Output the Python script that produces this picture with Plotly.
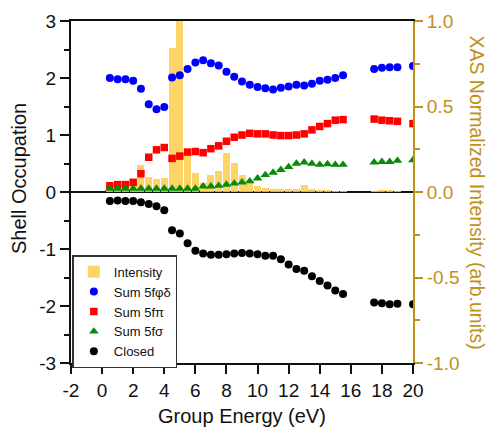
import plotly.graph_objects as go

# ---- data ----
x_pts = [0.5, 1.0, 1.5, 2.0, 2.5, 3.0, 3.5, 4.0, 4.5, 5.0, 5.5, 6.0, 6.5, 7.0, 7.5, 8.0,
         8.5, 9.0, 9.5, 10.0, 10.5, 11.0, 11.5, 12.0, 12.5, 13.0, 13.5, 14.0, 14.5, 15.0, 15.5,
         17.5, 18.0, 18.5, 19.0, 20.0]
sum_phi_delta = [2.00, 1.98, 1.98, 1.95, 1.81, 1.54, 1.45, 1.49, 2.01, 2.05, 2.16, 2.27, 2.31, 2.26,
                 2.22, 2.11, 2.02, 1.94, 1.88, 1.84, 1.82, 1.80, 1.83, 1.85, 1.88, 1.87, 1.90, 1.95,
                 1.97, 2.00, 2.05, 2.16, 2.18, 2.19, 2.19, 2.21]
sum_pi = [0.11, 0.13, 0.13, 0.17, 0.32, 0.61, 0.74, 0.78, 0.59, 0.63, 0.70, 0.71, 0.69, 0.76, 0.81,
          0.89, 0.96, 1.00, 1.03, 1.02, 1.02, 1.00, 0.99, 0.99, 1.00, 1.02, 1.09, 1.15, 1.20, 1.26,
          1.27, 1.28, 1.26, 1.25, 1.24, 1.20]
sum_sigma = [0.06, 0.06, 0.06, 0.06, 0.06, 0.06, 0.06, 0.06, 0.06, 0.06, 0.06, 0.06, 0.10, 0.10,
             0.11, 0.13, 0.15, 0.17, 0.19, 0.24, 0.30, 0.34, 0.39, 0.44, 0.50, 0.52, 0.50, 0.48,
             0.49, 0.48, 0.48, 0.52, 0.53, 0.53, 0.55, 0.56]
closed = [-0.16, -0.15, -0.16, -0.16, -0.18, -0.21, -0.25, -0.32, -0.67, -0.73, -0.90, -1.03, -1.08,
          -1.10, -1.10, -1.09, -1.08, -1.07, -1.08, -1.09, -1.12, -1.12, -1.18, -1.27, -1.35, -1.38,
          -1.48, -1.56, -1.64, -1.73, -1.79, -1.94, -1.95, -1.97, -1.96, -1.97]
intensity = [0.05, 0.05, 0.05, 0.06, 0.16, 0.09, 0.077, 0.083, 0.845, 1.0, 0.22, 0.11, 0.054, 0.10,
             0.125, 0.23, 0.17, 0.10, 0.054, 0.038, 0.025, 0.02, 0.02, 0.015, 0.02, 0.042, 0.02,
             0.014, 0.01, 0.008, 0.008, 0.008, 0.01, 0.01, 0.006, 0.0]
x_ticks = [-2, 0, 2, 4, 6, 8, 10, 12, 14, 16, 18, 20]
x_labels = ["-2", "0", "2", "4", "6", "8", "10", "12", "14", "16", "18", "20"]
occ_ticks = [-3, -2, -1, 0, 1, 2, 3]
occ_labels = ["-3", "-2", "-1", "0", "1", "2", "3"]
xas_ticks = [-1.0, -0.5, 0.0, 0.5, 1.0]
xas_labels = ["-1.0", "-0.5", "0.0", "0.5", "1.0"]

GOLD = "#c0901a"
FONT = "Liberation Sans, Arial, sans-serif"

fig = go.Figure()
fig.add_trace(go.Bar(x=x_pts, y=intensity, width=0.45, name="Intensity",
                     marker=dict(color="rgba(255,205,75,0.85)", line=dict(width=0)),
                     yaxis="y"))
fig.add_trace(go.Scatter(x=x_pts, y=sum_phi_delta, mode="markers", name="Sum 5fφδ",
                         marker=dict(symbol="circle", size=8, color="#0000ff"), yaxis="y2"))
fig.add_trace(go.Scatter(x=x_pts, y=sum_pi, mode="markers", name="Sum 5fπ",
                         marker=dict(symbol="square", size=7.5, color="#ff0000"), yaxis="y2"))
fig.add_trace(go.Scatter(x=x_pts, y=sum_sigma, mode="markers", name="Sum 5fσ",
                         marker=dict(symbol="triangle-up", size=8.5, color="#0a8a0a"), yaxis="y2"))
fig.add_trace(go.Scatter(x=x_pts, y=closed, mode="markers", name="Closed",
                         marker=dict(symbol="circle", size=8, color="#000000"), yaxis="y2"))

fig.update_layout(
    width=490, height=429,
    margin=dict(l=71, r=77, t=21, b=66),
    paper_bgcolor="white", plot_bgcolor="white",
    font=dict(family=FONT, size=19, color="#111"),
    bargap=0,
    xaxis=dict(range=[-2, 20], tickvals=x_ticks, ticktext=x_labels, ticks="outside", ticklen=9,
               tickwidth=2, tickcolor="#111", showline=True, linewidth=2, linecolor="#111",
               mirror=True, showgrid=False, zeroline=False, tickfont=dict(size=19)),
    yaxis=dict(side="right", range=[-1, 1], tickvals=xas_ticks, ticktext=xas_labels,
               ticks="outside", ticklen=8, tickwidth=2, tickcolor=GOLD, showline=True,
               linewidth=2, linecolor=GOLD, showgrid=False, zeroline=False,
               tickfont=dict(color=GOLD, size=19),
               minor=dict(dtick=0.25, ticks="outside", ticklen=5, tickwidth=2, tickcolor=GOLD)),
    yaxis2=dict(overlaying="y", side="left", range=[-3, 3], tickvals=occ_ticks,
                ticktext=occ_labels, ticks="outside", ticklen=9, tickwidth=2, tickcolor="#111",
                showline=True, linewidth=2, linecolor="#111", showgrid=False, zeroline=True,
                zerolinecolor="#111", zerolinewidth=2, tickfont=dict(size=19),
                minor=dict(dtick=0.5, ticks="outside", ticklen=5, tickwidth=2, tickcolor="#111")),
    legend=dict(x=0.004, y=0.315, xanchor="left", yanchor="top", bgcolor="white",
                bordercolor="#333", borderwidth=1.5, font=dict(size=13, family=FONT),
                tracegroupgap=0, itemwidth=30),
    showlegend=True,
)

fig.add_annotation(text="Group Energy (eV)", xref="paper", yref="paper", x=0.5, y=-0.192,
                   xanchor="center", yanchor="bottom", showarrow=False, font=dict(size=20))
fig.add_annotation(text="Shell Occupation", xref="paper", yref="paper", x=-0.15, y=0.54,
                   xanchor="center", yanchor="middle", textangle=-90, showarrow=False,
                   font=dict(size=20))
fig.add_annotation(text="XAS Normalized Intensity (arb.units)", xref="paper", yref="paper",
                   x=1.186, y=0.5, xanchor="center", yanchor="middle", textangle=90,
                   showarrow=False, font=dict(size=19.5, color=GOLD))

fig.write_html("out.html")
